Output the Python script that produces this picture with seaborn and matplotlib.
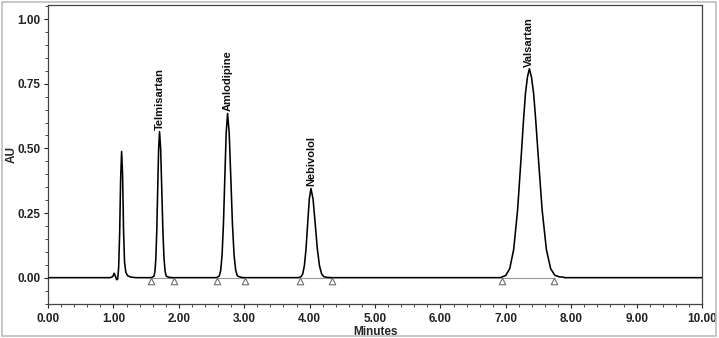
import numpy as np
import pandas as pd
import matplotlib.pyplot as plt
import matplotlib.ticker as mticker
from matplotlib.patches import Rectangle
import seaborn as sns

# Chromatogram trace, one segment per peak (minutes, AU)
base_time = [0.00, 0.95]
base_au = [0.0, 0.0]

void_time = [0.99, 1.01, 1.03, 1.05, 1.065, 1.08, 1.095, 1.11, 1.125, 1.14,
             1.155, 1.17, 1.19, 1.22, 1.27, 1.35]
void_au = [0.004, 0.017, 0.006, -0.008, -0.006, 0.04, 0.17, 0.38, 0.488, 0.40,
           0.18, 0.06, 0.02, 0.007, 0.002, 0.0]

telmi_time = [1.58, 1.621, 1.635, 1.649, 1.663, 1.677, 1.691, 1.705,
              1.722, 1.739, 1.756, 1.773, 1.79, 1.807, 1.84, 1.90]
telmi_au = [0.0, 0.006, 0.025, 0.076, 0.184, 0.343, 0.498, 0.565,
            0.498, 0.343, 0.184, 0.076, 0.025, 0.006, 0.002, 0.0]

amlo_time = [2.58, 2.619, 2.64, 2.661, 2.682, 2.703, 2.724, 2.745,
             2.77, 2.795, 2.82, 2.845, 2.87, 2.895, 2.94, 3.00]
amlo_au = [0.0, 0.007, 0.028, 0.086, 0.206, 0.385, 0.560, 0.635,
           0.560, 0.385, 0.206, 0.086, 0.028, 0.007, 0.002, 0.0]

nebi_time = [3.83, 3.87, 3.895, 3.92, 3.945, 3.97, 3.995, 4.02,
             4.0525, 4.085, 4.1175, 4.15, 4.1825, 4.215, 4.27, 4.35]
nebi_au = [0.0, 0.004, 0.015, 0.047, 0.112, 0.209, 0.304, 0.345,
           0.304, 0.209, 0.112, 0.047, 0.015, 0.004, 0.001, 0.0]

vals_time = [6.92, 7.00, 7.06, 7.12, 7.18, 7.24, 7.27, 7.30, 7.33, 7.36,
             7.3925, 7.425, 7.4575, 7.49, 7.555, 7.62, 7.685, 7.75, 7.82, 7.88,
             7.90, 10.00]
vals_au = [0.0, 0.009, 0.035, 0.109, 0.262, 0.489, 0.608, 0.712, 0.775, 0.808,
           0.775, 0.712, 0.608, 0.489, 0.262, 0.109, 0.035, 0.009, 0.003, 0.002,
           0.0, 0.0]

# peak labels and integration marks
peak_names = ['Telmisartan', 'Amlodipine', 'Nebivolol', 'Valsartan']
peak_rt = [1.705, 2.745, 4.02, 7.36]
peak_height = [0.565, 0.635, 0.345, 0.808]
peak_start = [1.58, 2.59, 3.85, 6.94]
peak_end = [1.92, 3.01, 4.34, 7.73]

trace = pd.DataFrame({
    'Minutes': base_time + void_time + telmi_time + amlo_time + nebi_time + vals_time,
    'AU': base_au + void_au + telmi_au + amlo_au + nebi_au + vals_au,
})
marks = pd.DataFrame({'Minutes': peak_start + peak_end,
                      'AU': [-0.013] * (len(peak_start) + len(peak_end))})

sns.set_style('ticks')
plt.rcParams['font.family'] = ['Liberation Sans', 'DejaVu Sans']

fig = plt.figure(figsize=(7.19, 3.38), dpi=100)
fig.patches.append(Rectangle((0.003, 0.006), 0.993, 0.988, transform=fig.transFigure,
                             fill=False, edgecolor='#bdbdbd', lw=1.2))
ax = fig.add_axes([0.0668, 0.102, 0.9096, 0.882])

# integration baselines
for s, e in zip(peak_start, peak_end):
    ax.plot([s, e], [0, 0], color='#9a9a9a', lw=0.8, zorder=1)

sns.lineplot(data=trace, x='Minutes', y='AU', color='black', lw=1.15,
             estimator=None, sort=False, ax=ax, zorder=3)
sns.scatterplot(data=marks, x='Minutes', y='AU', marker='^', s=22,
                facecolor='white', edgecolor='#6e6e6e', linewidth=0.8,
                ax=ax, zorder=4)

for name, rt, h in zip(peak_names, peak_rt, peak_height):
    ax.annotate(name, xy=(rt, h), xytext=(0, 1.5), textcoords='offset points',
                rotation=90, ha='center', va='bottom', fontsize=8,
                fontweight='bold', color='#111111')

ax.set_xlim(0, 10)
ax.set_ylim(-0.10, 1.053)
ax.xaxis.set_major_locator(mticker.MultipleLocator(1))
ax.xaxis.set_minor_locator(mticker.MultipleLocator(0.2))
ax.yaxis.set_major_locator(mticker.FixedLocator([0, 0.25, 0.5, 0.75, 1.0]))
ax.yaxis.set_minor_locator(mticker.MultipleLocator(0.05))
ax.xaxis.set_major_formatter(mticker.FormatStrFormatter('%.2f'))
ax.yaxis.set_major_formatter(mticker.FormatStrFormatter('%.2f'))
ax.tick_params(which='major', direction='out', length=3, width=0.8,
               labelsize=8.5, colors='#222222', pad=2.5)
ax.tick_params(axis='x', which='major', pad=3.5)
ax.tick_params(which='minor', direction='out', length=2, width=0.7, colors='#444444')
for lab in ax.get_xticklabels() + ax.get_yticklabels():
    lab.set_fontweight('bold')

for sp in ax.spines.values():
    sp.set_visible(True)
    sp.set_color('#444444')
    sp.set_linewidth(0.9)

ax.set_xlabel('Minutes', fontsize=8.5, fontweight='bold', labelpad=1)
ax.set_ylabel('AU', fontsize=8.5, fontweight='bold')
ax.yaxis.set_label_coords(-0.047, 0.5)

fig.savefig('out.png', dpi=100)
